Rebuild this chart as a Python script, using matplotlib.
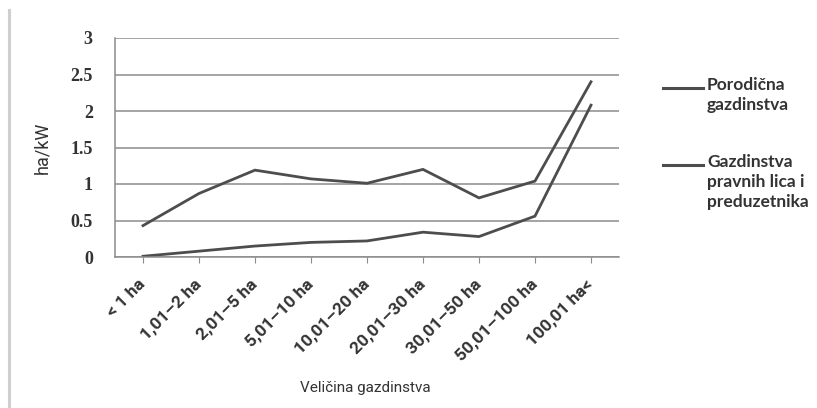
import matplotlib
matplotlib.use("Agg")
import matplotlib.pyplot as plt
from matplotlib import font_manager

categories = ["< 1 ha", "1,01–2 ha", "2,01–5 ha", "5,01–10 ha", "10,01–20 ha",
              "20,01–30 ha", "30,01–50 ha", "50,01–100 ha", "100,01 ha<"]
porodicna = [0.43, 0.87, 1.19, 1.07, 1.01, 1.20, 0.81, 1.04, 2.40]
pravna = [0.01, 0.08, 0.15, 0.20, 0.22, 0.34, 0.28, 0.56, 2.08]
series_names = ["Porodična\ngazdinstva", "Gazdinstva\npravnih lica i\npreduzetnika"]
yticks = [0, 0.5, 1, 1.5, 2, 2.5, 3]
ytick_labels = ["0", "0.5", "1", "1.5", "2", "2.5", "3"]

names = {f.name for f in font_manager.fontManager.ttflist}
narrow = "Liberation Sans Narrow" if "Liberation Sans Narrow" in names else "Roboto"

fig = plt.figure(figsize=(8.17, 4.08), dpi=100)
fig.patch.set_facecolor("white")
ax = fig.add_axes([115/817, 1-257/408, (619-115)/817, (257-38)/408])

x = list(range(len(categories)))
lc = "#4d4d4d"
ax.plot(x, porodicna, color=lc, lw=2.0, solid_joinstyle="miter")
ax.plot(x, pravna, color=lc, lw=2.0, solid_joinstyle="miter")

ax.set_xlim(-0.5, len(categories) - 0.5)
ax.set_ylim(0, 3)
ax.set_yticks(yticks)
ax.set_yticklabels(ytick_labels, family="Liberation Serif", fontweight="bold", fontsize=13, color="#333333")
ax.tick_params(axis="y", length=0, pad=16)
ax.yaxis.grid(True, color="#8c8c8c", lw=1.1)
ax.set_axisbelow(True)
for s in ["top", "right"]:
    ax.spines[s].set_visible(False)
for s in ["left", "bottom"]:
    ax.spines[s].set_color("#8c8c8c")
    ax.spines[s].set_linewidth(1.1)

ax.set_xticks(x)
ax.set_xticklabels(categories, rotation=45, ha="right", va="center", rotation_mode="anchor",
                   family=narrow, fontweight="bold", fontsize=12.5, color="#333333")
ax.tick_params(axis="x", length=4, color="#8c8c8c", pad=14)

ax.set_ylabel("ha/kW", family=narrow, fontsize=13, color="#333333", labelpad=14)
ax.set_xlabel("Veličina gazdinstva", family=narrow, fontsize=11, color="#333333")
ax.xaxis.set_label_coords((365-115)/504, (257-388)/219)
ax.xaxis.label.set_va("center")

# legend
for ly, name in [(88, series_names[0]), (165, series_names[1])]:
    yy = 1 - ly/408
    fig.add_artist(plt.Line2D([663/817, 703/817], [yy, yy], color=lc, lw=2.2))
    fig.text(707/817, yy + 11/408, name, family="Lato", fontweight="bold", fontsize=12.5,
             color="#333333", va="top", ha="left", linespacing=1.3)

# left border line of original image
fig.add_artist(plt.Line2D([8.5/817, 8.5/817], [0, 1 - 10/408], color="#cfcfcf", lw=2.2))

fig.savefig("out.png", dpi=100, facecolor="white")
